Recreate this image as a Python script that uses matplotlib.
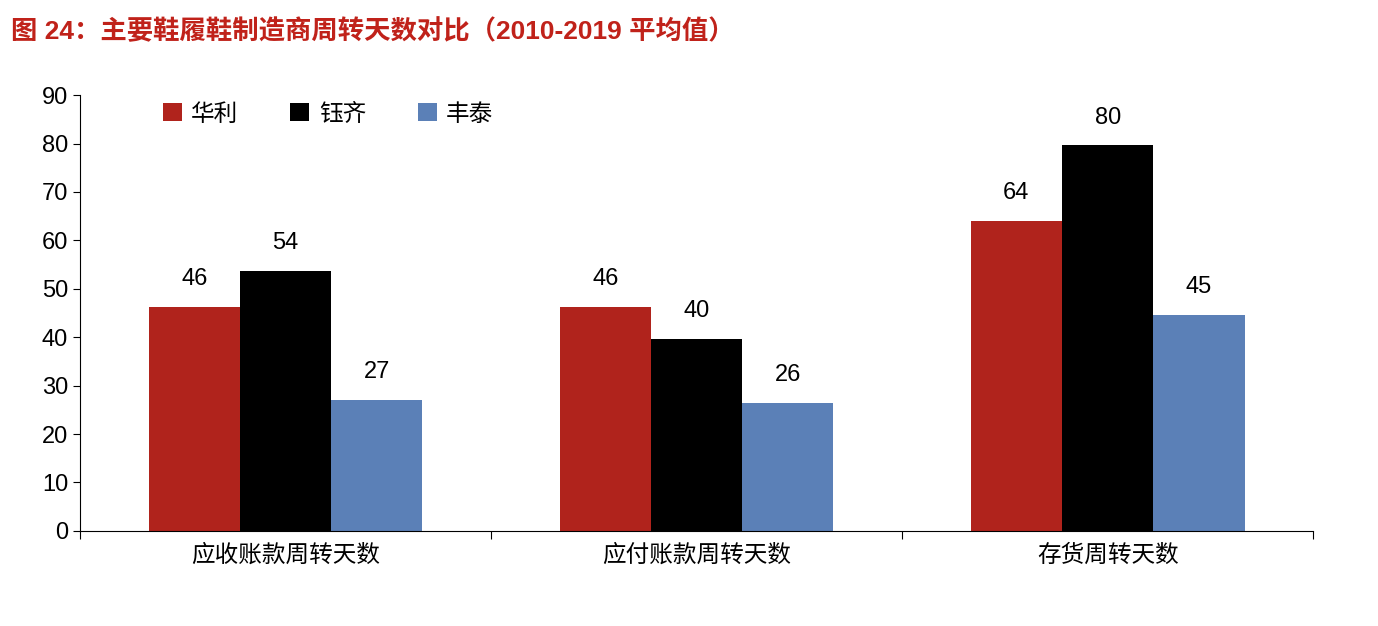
import matplotlib
matplotlib.use("Agg")
import matplotlib.pyplot as plt
import numpy as np

plt.rcParams['font.family'] = ['Liberation Sans', 'Noto Sans CJK SC']

categories = ["应收账款周转天数", "应付账款周转天数", "存货周转天数"]
series_names = ["华利", "钰齐", "丰泰"]
huali = [46.3, 53.6, 27.1][:1] + [46.3, 64.0]
yuqi = [53.6, 39.7, 79.6]
fengtai = [27.1, 26.4, 44.6]
colors = ["#B0231C", "#000000", "#5B80B7"]

fig = plt.figure(figsize=(13.78, 6.26), dpi=100)
ax = fig.add_axes([0.058, 0.152, 0.895, 0.696])
x = np.arange(len(categories))
w = 0.222
for i, (vals, name, c) in enumerate(zip([huali, yuqi, fengtai], series_names, colors)):
    pos = x + (i - 1) * w
    ax.bar(pos, vals, w, color=c, label=name)
    for p, v in zip(pos, vals):
        ax.text(p, v + 3.5, f"{v:.0f}", ha='center', va='bottom', fontsize=17)

ax.set_xlim(-0.5, 2.5)
ax.set_ylim(0, 90)
ax.set_yticks(range(0, 91, 10))
ax.tick_params(axis='y', labelsize=17, direction='out', length=5)
ax.set_xticks([-0.5, 0.5, 1.5, 2.5])
ax.set_xticklabels([])
ax.set_xticks(x, minor=True)
ax.set_xticklabels(categories, minor=True, fontsize=17)
ax.tick_params(axis='x', which='major', direction='out', length=6)
ax.tick_params(axis='x', which='minor', length=0, pad=10)
for s in ['top', 'right']:
    ax.spines[s].set_visible(False)
ax.legend(loc='upper left', bbox_to_anchor=(0.05, 1.03), ncol=3, frameon=False,
          fontsize=17, handlelength=0.8, handleheight=0.8, columnspacing=2.2, handletextpad=0.4)

fig.text(0.008, 0.95, "图 24：主要鞋履鞋制造商周转天数对比（2010-2019 平均值）", color="#C0221A",
         fontsize=19, fontweight='bold', va='center')
fig.savefig("out.png", dpi=100)
